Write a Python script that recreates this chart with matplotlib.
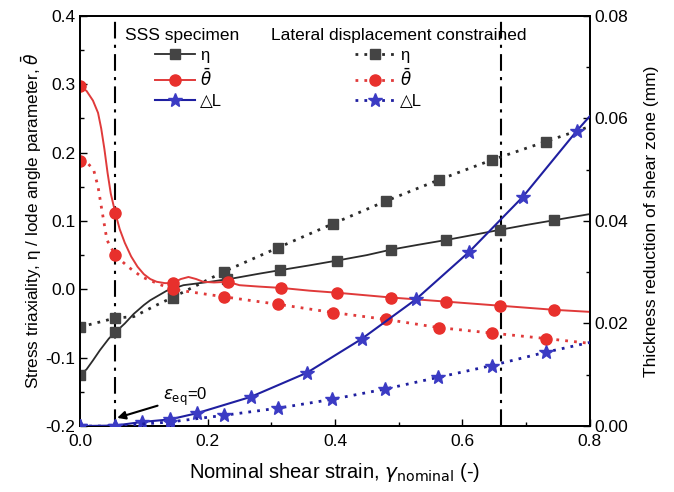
import matplotlib
matplotlib.use("Agg")
import matplotlib.pyplot as plt
from matplotlib.lines import Line2D
from matplotlib.ticker import MultipleLocator

# ---------------- data ----------------
# SSS specimen, stress triaxiality eta (solid)
eta_sss_x = [0, 0.01, 0.02, 0.031, 0.045, 0.055, 0.07, 0.084, 0.1, 0.11, 0.136, 0.162, 0.204, 0.24,
             0.282, 0.314, 0.36, 0.403, 0.45, 0.488, 0.53, 0.574, 0.62, 0.659, 0.7, 0.744, 0.8]
eta_sss_y = [-0.125, -0.117, -0.104, -0.089, -0.072, -0.063, -0.05, -0.036, -0.023, -0.016, -0.002,
             0.006, 0.011, 0.016, 0.023, 0.028, 0.035, 0.042, 0.05, 0.058, 0.065, 0.072, 0.08, 0.087,
             0.094, 0.101, 0.11]
eta_sss_mx = [0, 0.055, 0.145, 0.23, 0.314, 0.403, 0.488, 0.574, 0.659, 0.744]
eta_sss_my = [-0.125, -0.063, 0.0, 0.015, 0.028, 0.042, 0.058, 0.072, 0.087, 0.101]

# SSS specimen, lode angle parameter (solid)
th_sss_x = [0, 0.01, 0.02, 0.028, 0.033, 0.038, 0.043, 0.048, 0.055, 0.062, 0.07, 0.08, 0.09, 0.1,
            0.11, 0.12, 0.133, 0.145, 0.158, 0.17, 0.182, 0.193, 0.21, 0.232, 0.25, 0.28, 0.316,
            0.36, 0.403, 0.488, 0.574, 0.659, 0.744, 0.8]
th_sss_y = [0.297, 0.29, 0.276, 0.258, 0.235, 0.205, 0.17, 0.14, 0.112, 0.088, 0.068, 0.048, 0.033,
            0.022, 0.015, 0.011, 0.009, 0.009, 0.015, 0.018, 0.015, 0.011, 0.01, 0.011, 0.006, 0.004,
            0.002, -0.002, -0.005, -0.012, -0.018, -0.024, -0.03, -0.033]
th_sss_mx = [0, 0.055, 0.145, 0.232, 0.316, 0.403, 0.488, 0.574, 0.659, 0.744]
th_sss_my = [0.297, 0.112, 0.009, 0.011, 0.002, -0.005, -0.012, -0.018, -0.024, -0.03]

# SSS specimen, thickness reduction dL (solid, right axis)
dl_sss_x = [0, 0.055, 0.097, 0.141, 0.183, 0.268, 0.356, 0.442, 0.527, 0.611, 0.695, 0.78, 0.8]
dl_sss_y = [0, 0.0001, 0.0008, 0.0013, 0.0025, 0.0057, 0.0104, 0.017, 0.0247, 0.034, 0.0447, 0.0576, 0.0604]
dl_sss_mx = [0, 0.055, 0.097, 0.141, 0.183, 0.268, 0.356, 0.442, 0.527, 0.611, 0.695, 0.78]
dl_sss_my = [0, 0.0001, 0.0008, 0.0013, 0.0025, 0.0057, 0.0104, 0.017, 0.0247, 0.034, 0.0447, 0.0576]

# Lateral displacement constrained, eta (dotted)
eta_con_x = [0, 0.03, 0.055, 0.084, 0.12, 0.145, 0.226, 0.311, 0.397, 0.48, 0.563, 0.646, 0.731, 0.8]
eta_con_y = [-0.055, -0.048, -0.042, -0.04, -0.023, -0.012, 0.026, 0.061, 0.096, 0.129, 0.16, 0.189,
             0.216, 0.238]
eta_con_mx = [0, 0.055, 0.145, 0.226, 0.311, 0.397, 0.48, 0.563, 0.646, 0.731]
eta_con_my = [-0.055, -0.042, -0.012, 0.026, 0.061, 0.096, 0.129, 0.16, 0.189, 0.216]

# Lateral displacement constrained, lode angle parameter (dotted)
th_con_x = [0, 0.012, 0.021, 0.028, 0.034, 0.042, 0.055, 0.075, 0.097, 0.133, 0.145, 0.226, 0.311,
            0.397, 0.48, 0.563, 0.646, 0.731, 0.8]
th_con_y = [0.187, 0.184, 0.175, 0.15, 0.116, 0.072, 0.05, 0.033, 0.018, 0.004, 0.0, -0.011, -0.022,
            -0.034, -0.044, -0.056, -0.064, -0.072, -0.079]
th_con_mx = [0, 0.055, 0.145, 0.226, 0.311, 0.397, 0.48, 0.563, 0.646, 0.731]
th_con_my = [0.187, 0.05, 0.0, -0.011, -0.022, -0.034, -0.044, -0.056, -0.064, -0.072]

# Lateral displacement constrained, dL (dotted, right axis)
dl_con_x = [0, 0.055, 0.141, 0.226, 0.311, 0.395, 0.478, 0.562, 0.646, 0.731, 0.8]
dl_con_y = [0, 0, 0.0008, 0.0021, 0.0035, 0.0052, 0.0072, 0.0095, 0.0118, 0.0144, 0.0163]
dl_con_mx = [0, 0.055, 0.141, 0.226, 0.311, 0.395, 0.478, 0.562, 0.646, 0.731]
dl_con_my = [0, 0, 0.0008, 0.0021, 0.0035, 0.0052, 0.0072, 0.0095, 0.0118, 0.0144]

vlines_x = [0.055, 0.661]

# ---------------- style ----------------
plt.rcParams['font.family'] = ['Liberation Sans', 'DejaVu Sans']
plt.rcParams['mathtext.fontset'] = 'dejavusans'

c_eta_line = '#2b2b2b'
c_eta_mk = '#444444'
c_th_line = '#e03a3a'
c_th_mk = '#e8302c'
c_dl_line = '#1f1fa0'
c_dl_mk = '#3b3bc4'
dot = (0, (1, 2.2))

fig = plt.figure(figsize=(6.74, 4.92), dpi=100)
ax = fig.add_axes([0.119, 0.134, 0.756, 0.834])
ax2 = ax.twinx()

# left axis series
ax.plot(eta_sss_x, eta_sss_y, color=c_eta_line, lw=1.3, zorder=3)
ax.plot(eta_sss_mx, eta_sss_my, 's', color=c_eta_mk, ms=6.5, zorder=3)
ax.plot(eta_con_x, eta_con_y, color=c_eta_line, lw=2, ls=dot, zorder=3)
ax.plot(eta_con_mx, eta_con_my, 's', color=c_eta_mk, ms=6.5, zorder=3)

ax.plot(th_sss_x, th_sss_y, color=c_th_line, lw=1.4, zorder=4)
ax.plot(th_sss_mx, th_sss_my, 'o', color=c_th_mk, ms=8, zorder=4)
ax.plot(th_con_x, th_con_y, color=c_th_line, lw=2, ls=dot, zorder=4)
ax.plot(th_con_mx, th_con_my, 'o', color=c_th_mk, ms=8, zorder=4)

for xv in vlines_x:
    ax.axvline(xv, color='black', lw=1.5, ls=(0, (8, 3, 1.5, 3)), zorder=2)

# right axis series
ax2.plot(dl_sss_x, dl_sss_y, color=c_dl_line, lw=1.5, zorder=3)
ax2.plot(dl_sss_mx, dl_sss_my, '*', color=c_dl_mk, ms=10, zorder=3)
ax2.plot(dl_con_x, dl_con_y, color=c_dl_line, lw=2, ls=dot, zorder=3)
ax2.plot(dl_con_mx, dl_con_my, '*', color=c_dl_mk, ms=10, zorder=3)

# axes limits / ticks
ax.set_xlim(0, 0.8)
ax.set_ylim(-0.2, 0.4)
ax2.set_ylim(0, 0.08)
ax.xaxis.set_major_locator(MultipleLocator(0.2))
ax.xaxis.set_minor_locator(MultipleLocator(0.1))
ax.yaxis.set_major_locator(MultipleLocator(0.1))
ax.yaxis.set_minor_locator(MultipleLocator(0.05))
ax2.yaxis.set_major_locator(MultipleLocator(0.02))
ax2.yaxis.set_minor_locator(MultipleLocator(0.01))
ax.xaxis.set_major_formatter(plt.FormatStrFormatter('%.1f'))
ax.yaxis.set_major_formatter(plt.FormatStrFormatter('%.1f'))
ax2.yaxis.set_major_formatter(plt.FormatStrFormatter('%.2f'))

for a in (ax, ax2):
    a.tick_params(which='both', direction='in', labelsize=12.5)
    a.tick_params(which='major', length=5, width=1)
    a.tick_params(which='minor', length=3, width=1)
    for s in a.spines.values():
        s.set_linewidth(1.3)
ax.tick_params(axis='x', pad=6)

ax.set_xlabel(r'Nominal shear strain, $\gamma_{\mathrm{nominal}}$ (-)', fontsize=14.5, labelpad=8)
ax.set_ylabel(r'Stress triaxiality, η / lode angle parameter, $\bar{\theta}$', fontsize=12.3, labelpad=1)
ax2.set_ylabel('Thickness reduction of shear zone (mm)', fontsize=12.5, labelpad=11)

# annotation
ax.annotate(r'$\varepsilon_{\mathrm{eq}}$=0', xy=(0.058, -0.188), xytext=(0.13, -0.158),
            fontsize=12, ha='left', va='center',
            arrowprops=dict(arrowstyle='-|>', color='black', lw=1.5, mutation_scale=12,
                            shrinkA=2, shrinkB=0))

# legends
ax.text(0.07, 0.371, 'SSS specimen', fontsize=12.5, ha='left', va='center')
ax.text(0.3, 0.371, 'Lateral displacement constrained', fontsize=12.5, ha='left', va='center')

h_sss = [Line2D([], [], color=c_eta_line, lw=1.3, marker='s', mfc=c_eta_mk, mec=c_eta_mk, ms=6.5),
         Line2D([], [], color=c_th_line, lw=1.4, marker='o', mfc=c_th_mk, mec=c_th_mk, ms=8),
         Line2D([], [], color=c_dl_line, lw=1.5, marker='*', mfc=c_dl_mk, mec=c_dl_mk, ms=10)]
h_con = [Line2D([], [], color=c_eta_line, lw=2, ls=dot, marker='s', mfc=c_eta_mk, mec=c_eta_mk, ms=6.5),
         Line2D([], [], color=c_th_line, lw=2, ls=dot, marker='o', mfc=c_th_mk, mec=c_th_mk, ms=8),
         Line2D([], [], color=c_dl_line, lw=2, ls=dot, marker='*', mfc=c_dl_mk, mec=c_dl_mk, ms=10)]
labels = ['η', r'$\bar{\theta}$', '△L']

leg1 = ax2.legend(h_sss, labels, loc='upper left', bbox_to_anchor=(0.147, 0.922), frameon=False,
                  fontsize=12, handlelength=2.4, handletextpad=0.3, labelspacing=0.28,
                  borderaxespad=0, borderpad=0)
ax2.add_artist(leg1)
leg2 = ax2.legend(h_con, labels, loc='upper left', bbox_to_anchor=(0.539, 0.922), frameon=False,
                  fontsize=12, handlelength=2.4, handletextpad=0.3, labelspacing=0.28,
                  borderaxespad=0, borderpad=0)

fig.savefig('out.png', dpi=100)
